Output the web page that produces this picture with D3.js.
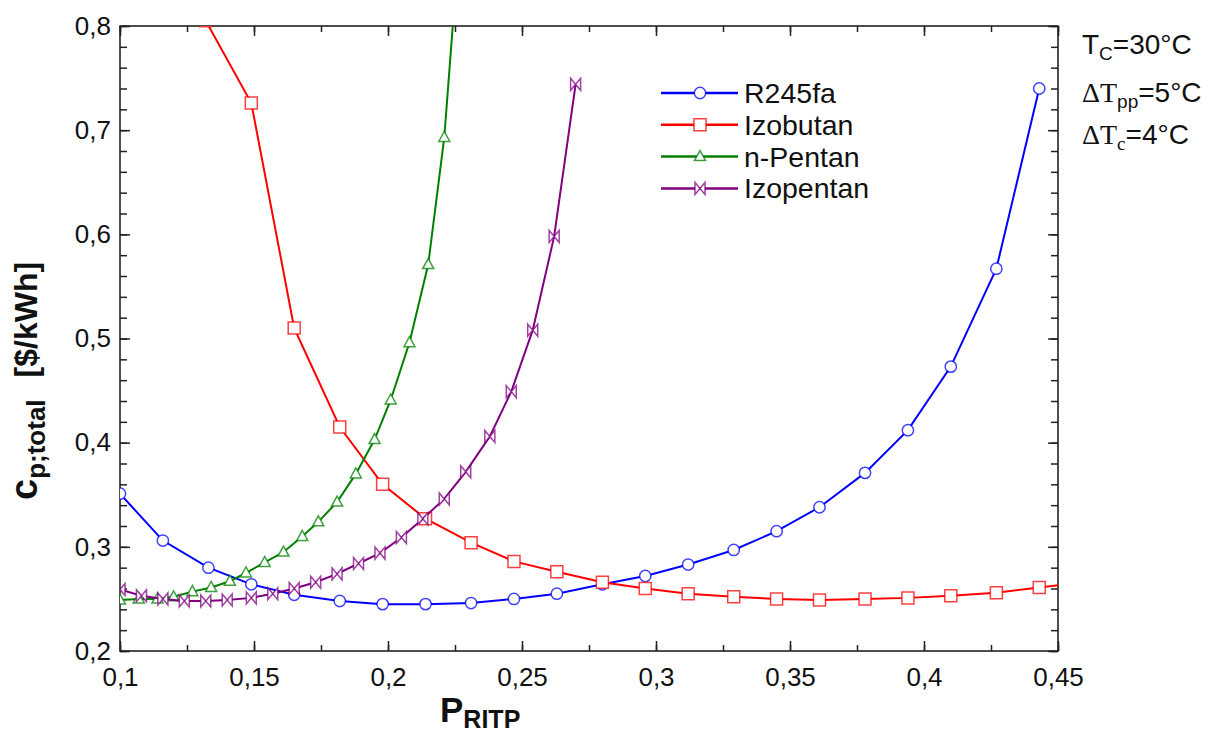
<!DOCTYPE html>
<html>
<head>
<meta charset="utf-8">
<script src="https://cdn.jsdelivr.net/npm/d3@7"></script>
<style>
  body { margin: 0; background: #fff; }
  svg { font-family: "Liberation Sans", Arial, sans-serif; }
</style>
</head>
<body>
<svg id="chart" width="1213" height="733"></svg>
<script>
// ---- data ----
const r245faX = [0.100, 0.116, 0.133, 0.149, 0.165, 0.182, 0.198, 0.214, 0.231, 0.247, 0.263,
                 0.280, 0.296, 0.312, 0.329, 0.345, 0.361, 0.378, 0.394, 0.410, 0.427, 0.443];
const r245faY = [0.351, 0.306, 0.280, 0.264, 0.254, 0.248, 0.245, 0.245, 0.246, 0.250, 0.255,
                 0.264, 0.272, 0.283, 0.297, 0.315, 0.338, 0.371, 0.412, 0.473, 0.567, 0.740];

const izobutanX = [0.132, 0.149, 0.165, 0.182, 0.198, 0.214, 0.231, 0.247, 0.263, 0.280, 0.296,
                   0.312, 0.329, 0.345, 0.361, 0.378, 0.394, 0.410, 0.427, 0.443, 0.459];
const izobutanY = [0.805, 0.726, 0.510, 0.415, 0.360, 0.327, 0.304, 0.286, 0.276, 0.266, 0.260,
                   0.255, 0.252, 0.250, 0.249, 0.250, 0.251, 0.253, 0.256, 0.261, 0.266];

const nPentanX = [0.100, 0.107, 0.114, 0.120, 0.127, 0.134, 0.141, 0.147, 0.154, 0.161,
                  0.168, 0.174, 0.181, 0.188, 0.195, 0.201, 0.208, 0.215, 0.221, 0.228];
const nPentanY = [0.249, 0.250, 0.250, 0.252, 0.257, 0.261, 0.267, 0.275, 0.285, 0.295,
                  0.310, 0.324, 0.343, 0.370, 0.403, 0.441, 0.496, 0.571, 0.693, 0.930];

const izopentanX = [0.100, 0.108, 0.116, 0.124, 0.132, 0.140, 0.149, 0.157, 0.165, 0.173, 0.181,
                    0.189, 0.197, 0.205, 0.213, 0.221, 0.229, 0.238, 0.246, 0.254, 0.262, 0.270];
const izopentanY = [0.259, 0.253, 0.250, 0.248, 0.248, 0.249, 0.251, 0.255, 0.260, 0.266, 0.274,
                    0.284, 0.294, 0.309, 0.327, 0.346, 0.372, 0.406, 0.449, 0.508, 0.598, 0.744];

const seriesNames = ["R245fa", "Izobutan", "n-Pentan", "Izopentan"];
const xTicks = [0.1, 0.15, 0.2, 0.25, 0.3, 0.35, 0.4, 0.45];
const yTicks = [0.2, 0.3, 0.4, 0.5, 0.6, 0.7, 0.8];

// ---- layout ----
const margin = { top: 26, right: 155, bottom: 82, left: 120 };
const W = 1213, H = 733;
const width = W - margin.left - margin.right;
const height = H - margin.top - margin.bottom;

const series = [
  { name: seriesNames[0], xs: r245faX, ys: r245faY, color: "#0000ff", mark: "circle" },
  { name: seriesNames[1], xs: izobutanX, ys: izobutanY, color: "#ff0000", mark: "square" },
  { name: seriesNames[2], xs: nPentanX, ys: nPentanY, color: "#008000", mark: "triangle" },
  { name: seriesNames[3], xs: izopentanX, ys: izopentanY, color: "#800080", mark: "bowtie" }
];

const svg = d3.select("#chart");
const g = svg.append("g").attr("transform", `translate(${margin.left},${margin.top})`);

const x = d3.scaleLinear().domain([0.1, 0.45]).range([0, width]);
const y = d3.scaleLinear().domain([0.2, 0.8]).range([height, 0]);

const comma = d => String(+d.toFixed(3)).replace(".", ",");

svg.append("defs").append("clipPath").attr("id", "plot-clip")
  .append("rect").attr("width", width).attr("height", height);

// minor ticks
const xMinor = d3.range(0.1, 0.4501, 0.025);
const yMinor = d3.range(0.2, 0.8001, 0.02);
g.append("g").attr("transform", `translate(0,${height})`)
  .call(d3.axisBottom(x).tickValues(xMinor).tickSize(-6).tickFormat(""));
g.append("g")
  .call(d3.axisTop(x).tickValues(xMinor).tickSize(-6).tickFormat(""));
g.append("g")
  .call(d3.axisLeft(y).tickValues(yMinor).tickSize(-7).tickFormat(""));
g.append("g").attr("transform", `translate(${width},0)`)
  .call(d3.axisRight(y).tickValues(yMinor).tickSize(-7).tickFormat(""));

// major ticks
g.append("g").attr("class", "x-axis").attr("transform", `translate(0,${height})`)
  .call(d3.axisBottom(x).tickValues(xTicks).tickSize(-10).tickPadding(17).tickFormat(comma));
g.append("g")
  .call(d3.axisTop(x).tickValues(xTicks).tickSize(-10).tickFormat(""));
g.append("g").attr("class", "y-axis")
  .call(d3.axisLeft(y).tickValues(yTicks).tickSize(-10).tickPadding(9).tickFormat(comma));
g.append("g").attr("transform", `translate(${width},0)`)
  .call(d3.axisRight(y).tickValues(yTicks).tickSize(-10).tickFormat(""));

g.selectAll(".domain").remove();
g.selectAll(".tick line").attr("stroke", "#222").attr("stroke-width", 1.5);
g.selectAll(".x-axis text, .y-axis text")
  .attr("font-size", 26).attr("fill", "#111")
  .attr("font-family", "Liberation Sans, Arial, sans-serif");

// frame
g.append("rect").attr("width", width).attr("height", height)
  .attr("fill", "none").attr("stroke", "#222").attr("stroke-width", 1.6);

// marker shapes
function markerPath(type) {
  if (type === "circle") return d3.symbol(d3.symbolCircle, 100)();
  if (type === "square") return "M-6,-6L6,-6L6,6L-6,6Z";
  if (type === "triangle") return "M0,-6L5.5,4L-5.5,4Z";
  return "M-5,-6L5,6L5,-6L-5,6Z";
}

const plot = g.append("g").attr("clip-path", "url(#plot-clip)");
const line = d3.line().x(d => x(d[0])).y(d => y(d[1]));

series.forEach(s => {
  const pts = s.xs.map((v, i) => [v, s.ys[i]]);
  plot.append("path").datum(pts)
    .attr("fill", "none").attr("stroke", s.color).attr("stroke-width", 2)
    .attr("d", line);
  plot.selectAll(null).data(pts).join("path")
    .attr("transform", d => `translate(${x(d[0])},${y(d[1])})`)
    .attr("d", markerPath(s.mark))
    .attr("fill", "#fff")
    .attr("stroke", s.color).attr("stroke-opacity", 0.75).attr("stroke-width", 1.5);
});

// legend
const legend = svg.append("g").attr("transform", "translate(661,93)");
series.forEach((s, i) => {
  const row = legend.append("g").attr("transform", `translate(0,${i * 31.8})`);
  row.append("line").attr("x1", 0).attr("x2", 77)
    .attr("stroke", s.color).attr("stroke-width", 2.5);
  row.append("path").attr("transform", "translate(39,0)")
    .attr("d", markerPath(s.mark)).attr("fill", "#fff")
    .attr("stroke", s.color).attr("stroke-opacity", 0.75).attr("stroke-width", 1.5);
  row.append("text").attr("x", 83).attr("y", 10)
    .attr("font-size", 28.5).attr("fill", "#111").text(s.name);
});

// conditions, top right
const notes = svg.append("g").attr("font-size", 28).attr("fill", "#111");
const n1 = notes.append("text").attr("x", 1082).attr("y", 54);
n1.append("tspan").text("T");
n1.append("tspan").attr("font-size", 19).attr("dy", 6).text("C");
n1.append("tspan").attr("dy", -6).text("=30°C");

const n2 = notes.append("text").attr("x", 1082).attr("y", 102);
n2.append("tspan").attr("font-family", "Liberation Serif, serif").text("ΔT");
n2.append("tspan").attr("font-size", 19).attr("dy", 6).text("pp");
n2.append("tspan").attr("dy", -6).text("=5°C");

const n3 = notes.append("text").attr("x", 1082).attr("y", 144);
n3.append("tspan").attr("font-family", "Liberation Serif, serif").text("ΔT");
n3.append("tspan").attr("font-family", "Liberation Serif, serif").attr("font-size", 19).attr("dy", 6).text("c");
n3.append("tspan").attr("dy", -6).text("=4°C");

// axis titles
const xt = svg.append("text").attr("x", 440).attr("y", 722)
  .attr("font-weight", "bold").attr("fill", "#111");
xt.append("tspan").attr("font-size", 35).text("P");
xt.append("tspan").attr("font-size", 25).attr("dy", 6).text("RITP");

const yt = svg.append("text").attr("transform", "translate(37,500) rotate(-90)")
  .attr("font-weight", "bold").attr("fill", "#111");
yt.append("tspan").attr("font-size", 38).text("c");
yt.append("tspan").attr("font-size", 26).attr("dy", 8).text("p;total");
yt.append("tspan").attr("font-size", 32).attr("dy", -8).attr("dx", 22).text("[$/kWh]");
</script>
</body>
</html>
